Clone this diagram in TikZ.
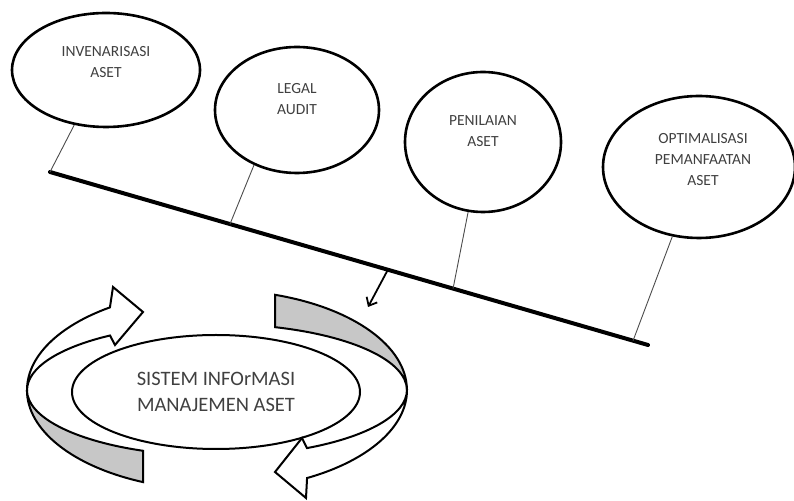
\documentclass[tikz,border=0pt]{standalone}
\usepackage{fontspec}
\setmainfont{Carlito}
\usetikzlibrary{shapes,positioning,calc,arrows.meta}
\tikzset{
	elp/.style = {ellipse, draw=black, line width=2.6pt, fill=white, inner sep=0pt},
	lbl/.style = {align=center, text=black!75, font=\fontsize{15.5}{21}\selectfont},
	elp_main/.style = {ellipse, draw=black, line width=2pt, fill=white, align=center, text=black!75, font=\fontsize{20.5}{26}\selectfont, minimum width=288, minimum height=114},
	bar/.style = {line width=4pt, line cap=round},
	link/.style = {draw=black!70, line width=0.9pt},
	pita/.style = {draw=black, line width=2pt, line join=miter, fill=white},
	pita_grey/.style = {pita, fill=black!22}
}

\begin{document}
\begin{tikzpicture}[x=1pt, y=1pt]
	\useasboundingbox (0,0) rectangle (794,500);
	\node [elp, minimum width=188, minimum height=114, label={[lbl, yshift=8]center:INVENARISASI\\ASET}] (inv) at (106,430) {};
	\node [elp, minimum width=164, minimum height=126, label={[lbl, yshift=11]center:LEGAL\\AUDIT}] (legal) at (297,390) {};
	\node [elp, minimum width=156, minimum height=140, label={[lbl, yshift=11]center:PENILAIAN\\ASET}] (nilai) at (483,358) {};
	\node [elp, minimum width=192, minimum height=142, label={[lbl, xshift=4, yshift=7]center:OPTIMALISASI\\PEMANFAATAN\\ASET}] (opt) at (699,333) {};
	
	\coordinate (b0) at (50,328);
	\coordinate (b1) at (648,155);
	\draw [bar] (b0) -- (b1);
	\coordinate (k2) at ($(b0)!0.301!(b1)$);
	\coordinate (k3) at ($(b0)!0.674!(b1)$);
	\coordinate (k4) at ($(b0)!0.975!(b1)$);
	\coordinate (ka) at ($(b0)!0.565!(b1)$);
	\draw [link] (inv.240) -- (b0);
	\draw [link] (legal.232) -- (k2);
	\draw [link] (nilai.258) -- (k3);
	\draw [link] (opt.249) -- (k4);
	
	\node [elp_main] (sim) at (216,108) {SISTEM INFOrMASI\\MANAJEMEN ASET};
	\coordinate (hit) at (368,193);
	\draw [line width=1.8pt, -{Straight Barb[length=7pt, width=12pt]}] (ka) -- (hit);
	
	% pita kiri
	\draw [pita_grey] (143,17.9) arc [start angle=247.1, end angle=180, x radius=190, y radius=100]
		arc [start angle=180, end angle=247.1, x radius=190, y radius=66] -- cycle;
	\draw [pita] (27,110) arc [start angle=180, end angle=124.3, x radius=190, y radius=100]
		-- (113,213) -- (143,188) -- (115,155) -- (110,164.5)
		arc [start angle=124.3, end angle=180, x radius=190, y radius=66] -- cycle;
	% pita kanan
	\draw [pita_grey] (275,205.2) arc [start angle=72.2, end angle=0, x radius=190, y radius=100]
		arc [start angle=0, end angle=72.2, x radius=190, y radius=66] -- cycle;
	\draw [pita] (407,110) arc [start angle=0, end angle=-61.7, x radius=190, y radius=100]
		-- (306,2) -- (275,28) -- (302,62) -- (307,51.9)
		arc [start angle=-61.7, end angle=0, x radius=190, y radius=66] -- cycle;
\end{tikzpicture}
\end{document}
